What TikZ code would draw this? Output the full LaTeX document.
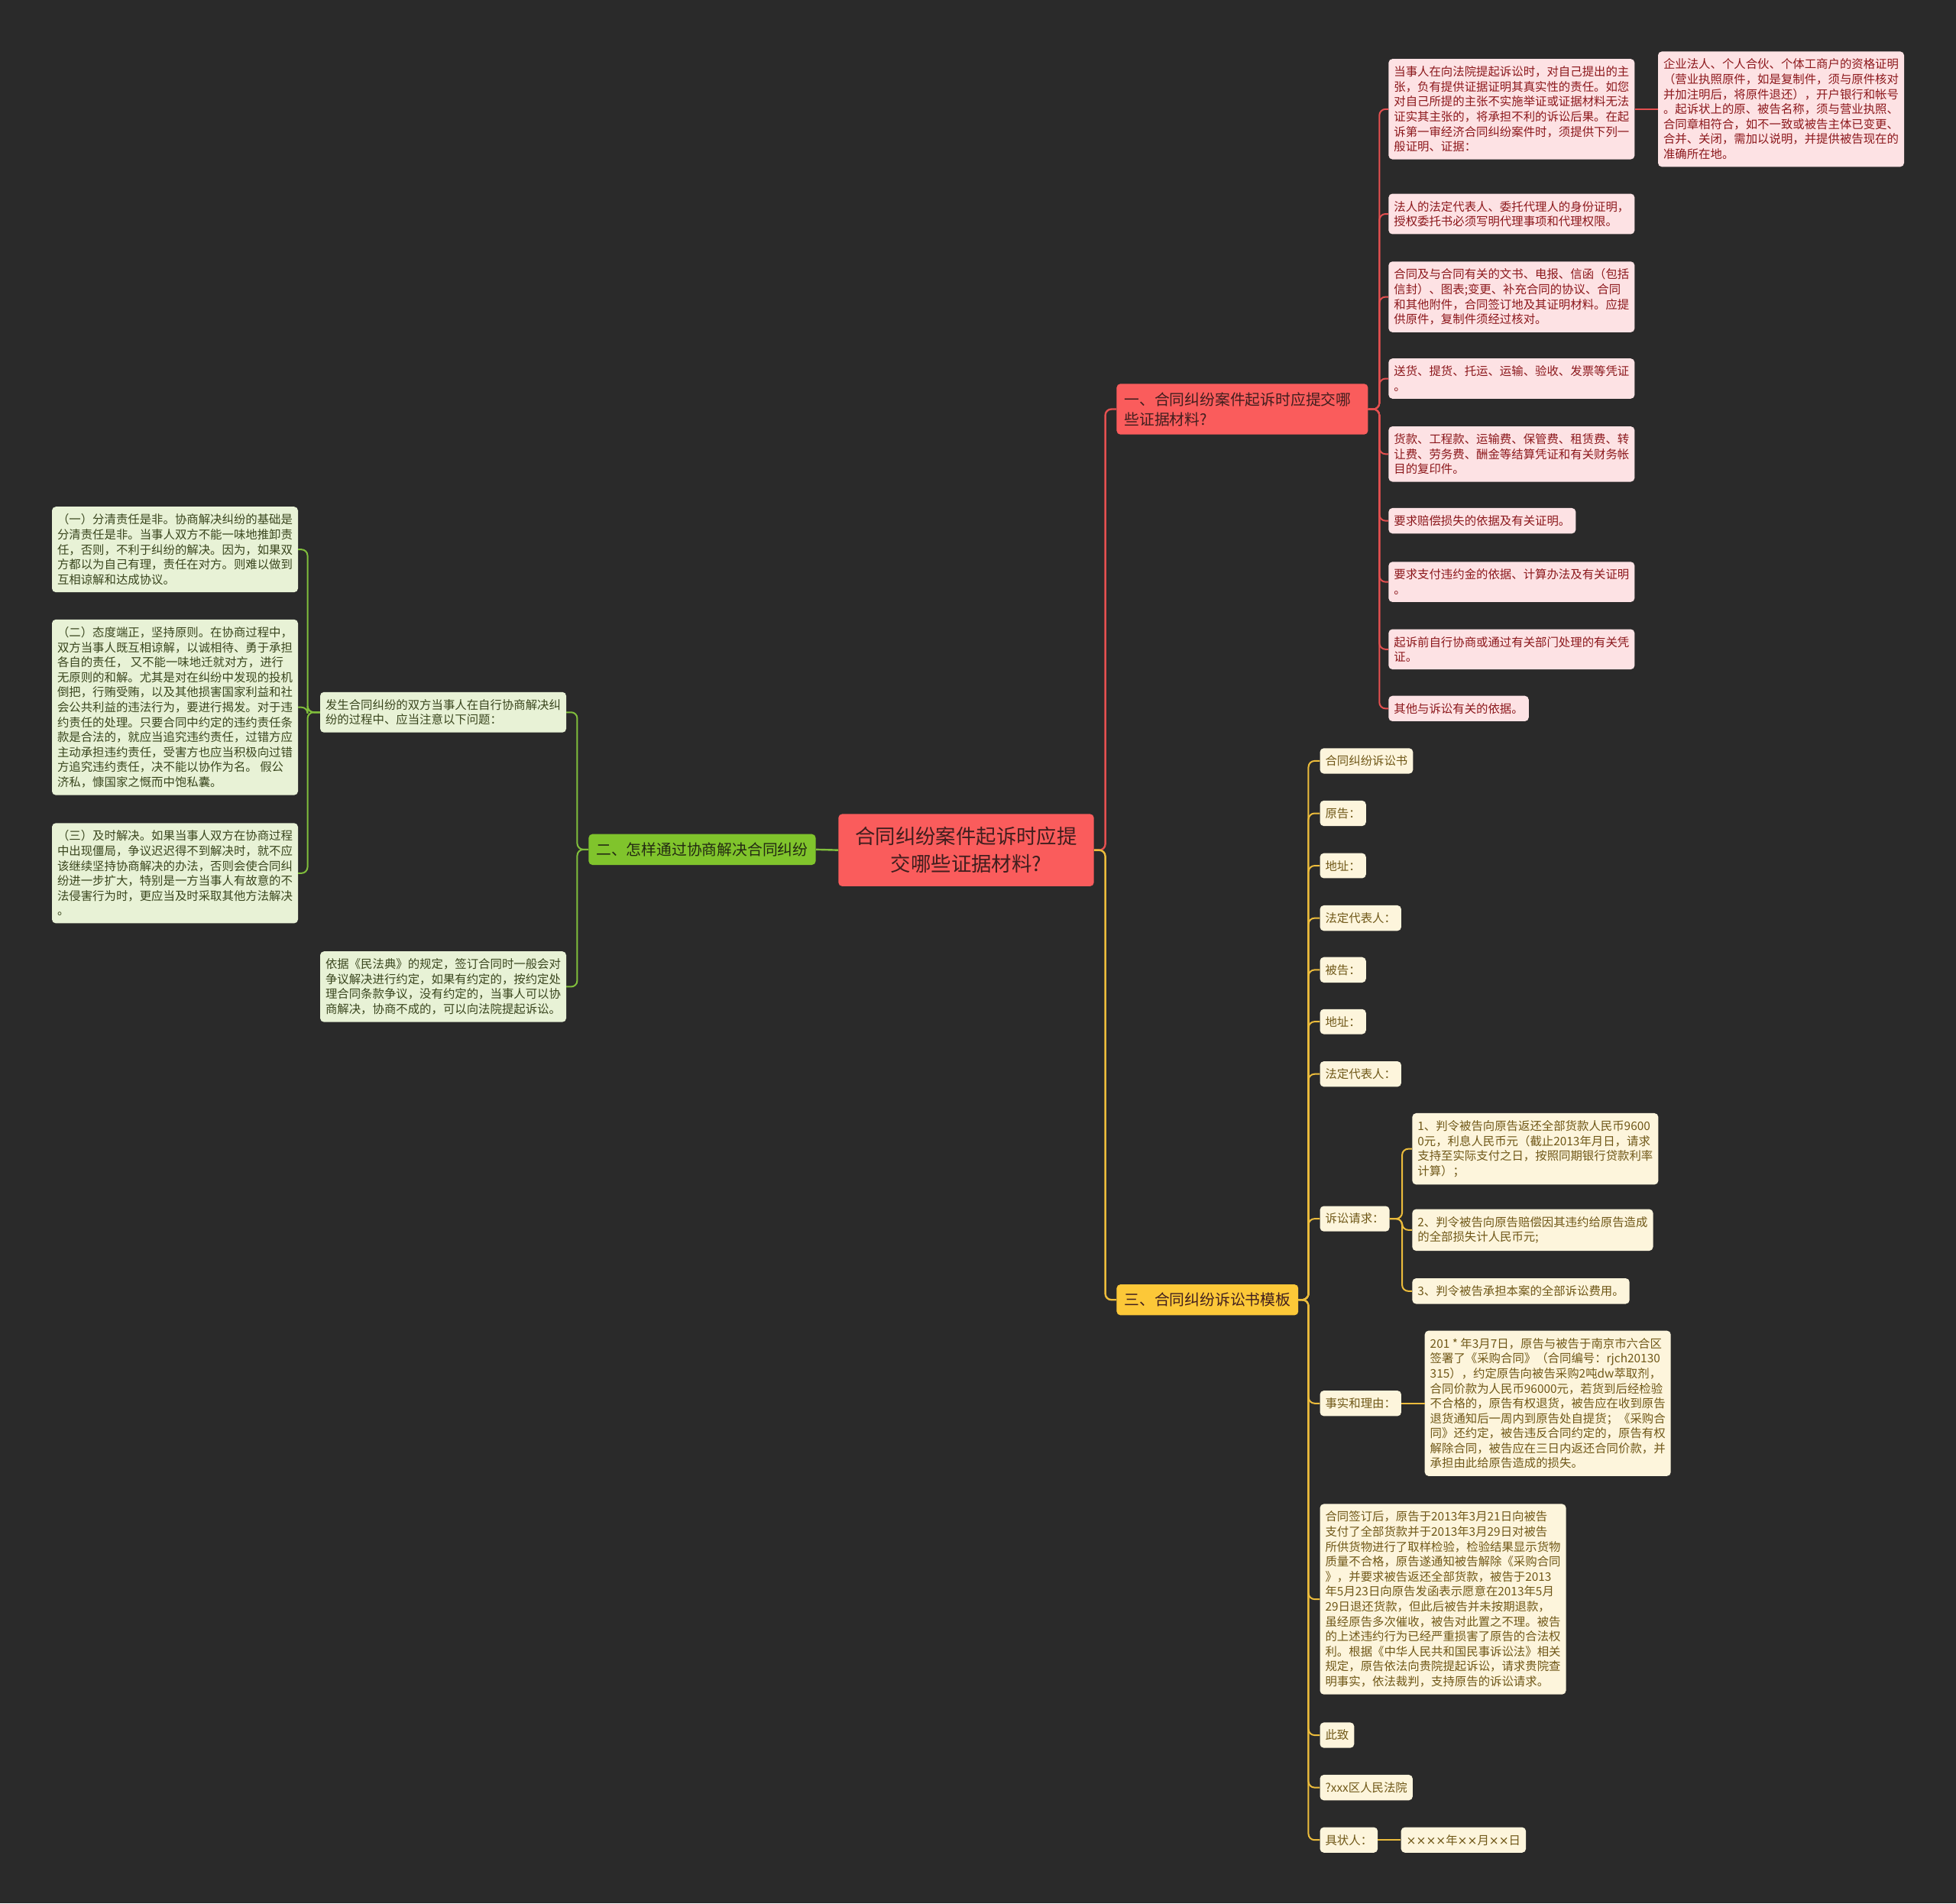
\documentclass[tikz,border=0pt]{standalone}
\usepackage{fontspec}
\setmainfont{Noto Sans CJK SC}
\newfontfamily\letrapor{DejaVu Sans}
\usepackage{tikz}
\definecolor{fondo}{RGB}{42,42,42}
\definecolor{rojito}{RGB}{250,92,92}
\definecolor{rojolinea}{RGB}{228,80,80}
\definecolor{rosita}{RGB}{253,226,228}
\definecolor{rojotexto}{RGB}{140,24,28}
\definecolor{verdecito}{RGB}{128,196,44}
\definecolor{verdelinea}{RGB}{128,190,60}
\definecolor{verdeclaro}{RGB}{232,242,214}
\definecolor{verdetexto}{RGB}{58,70,30}
\definecolor{amarillito}{RGB}{252,200,56}
\definecolor{amarillolinea}{RGB}{236,188,60}
\definecolor{cremita}{RGB}{253,245,220}
\definecolor{amarillotexto}{RGB}{112,88,24}
\definecolor{oscurito}{RGB}{64,30,30}
\newcommand{\letrachica}{\fontsize{15.4pt}{19.6pt}\selectfont}
\newcommand{\letramedia}{\fontsize{19.8pt}{26pt}\selectfont}
\newcommand{\letragrande}{\fontsize{26.4pt}{36pt}\selectfont}
\newcommand{\por}{{\letrapor ×}}
\tikzset{
  raiz/.style={fill=rojito, text=oscurito, rounded corners=5pt, align=center, font=\letragrande, inner xsep=22pt, inner ysep=17pt},
  rama/.style={rounded corners=5pt, align=left, font=\letramedia, inner xsep=10pt, inner ysep=11pt, anchor=west},
  hoja/.style={rounded corners=5pt, align=left, font=\letrachica, inner xsep=7pt, inner ysep=9.5pt, anchor=west},
  hojaroja/.style={hoja, fill=rosita, text=rojotexto},
  hojaverde/.style={hoja, fill=verdeclaro, text=verdetexto, anchor=east},
  hojaamarilla/.style={hoja, fill=cremita, text=amarillotexto},
  enlace/.style={line width=2.4pt, rounded corners=8pt},
  enlacefino/.style={line width=2pt, rounded corners=8pt}
}

\begin{document}
\begin{tikzpicture}[x=1.6327pt,y=-1.6327pt]
  % Fondo
  \fill[fondo] (0,0) rectangle (1568,1526);
  \useasboundingbox (0,0) rectangle (1568,1526);

  % Nodo central
  \node[raiz] (raiz) at (774.5,681.5) {合同纠纷案件起诉时应提\\交哪些证据材料?};

  % Ramas
  \node[rama, fill=rojito, text=oscurito, text width=309pt] (uno) at (895,328) {一、合同纠纷案件起诉时应提交哪\\些证据材料?};
  \node[rama, fill=verdecito, text=verdetexto!60!black, anchor=east] (dos) at (654,681) {二、怎样通过协商解决合同纠纷};
  \node[rama, fill=amarillito, text=oscurito] (tres) at (895,1042) {三、合同纠纷诉讼书模板};

  % Rama uno: pruebas
  \node[hojaroja] (r1) at (1113,87.5) {当事人在向法院提起诉讼时，对自己提出的主\\张，负有提供证据证明其真实性的责任。如您\\对自己所提的主张不实施举证或证据材料无法\\证实其主张的，将承担不利的诉讼后果。在起\\诉第一审经济合同纠纷案件时，须提供下列一\\般证明、证据：};
  \node[hojaroja] (r1a) at (1329,87.5) {企业法人、个人合伙、个体工商户的资格证明\\（营业执照原件，如是复制件，须与原件核对\\并加注明后，将原件退还），开户银行和帐号\\。起诉状上的原、被告名称，须与营业执照、\\合同章相符合，如不一致或被告主体已变更、\\合并、关闭，需加以说明，并提供被告现在的\\准确所在地。};
  \node[hojaroja] (r2) at (1113,171.5) {法人的法定代表人、委托代理人的身份证明，\\授权委托书必须写明代理事项和代理权限。};
  \node[hojaroja] (r3) at (1113,238) {合同及与合同有关的文书、电报、信函（包括\\信封）、图表;变更、补充合同的协议、合同\\和其他附件，合同签订地及其证明材料。应提\\供原件，复制件须经过核对。};
  \node[hojaroja] (r4) at (1113,303.5) {送货、提货、托运、运输、验收、发票等凭证\\。};
  \node[hojaroja] (r5) at (1113,364) {货款、工程款、运输费、保管费、租赁费、转\\让费、劳务费、酬金等结算凭证和有关财务帐\\目的复印件。};
  \node[hojaroja] (r6) at (1113,417.5) {要求赔偿损失的依据及有关证明。};
  \node[hojaroja] (r7) at (1113,466.5) {要求支付违约金的依据、计算办法及有关证明\\。};
  \node[hojaroja] (r8) at (1113,520.5) {起诉前自行协商或通过有关部门处理的有关凭\\证。};
  \node[hojaroja] (r9) at (1113,568) {其他与诉讼有关的依据。};

  % Rama dos:协商
  \node[hojaverde] (v1) at (454,571) {发生合同纠纷的双方当事人在自行协商解决纠\\纷的过程中、应当注意以下问题：};
  \node[hojaverde] (v2) at (454,791) {依据《民法典》的规定，签订合同时一般会对\\争议解决进行约定，如果有约定的，按约定处\\理合同条款争议，没有约定的，当事人可以协\\商解决，协商不成的，可以向法院提起诉讼。};
  \node[hojaverde] (v1a) at (239,440.5) {（一）分清责任是非。协商解决纠纷的基础是\\分清责任是非。当事人双方不能一味地推卸责\\任，否则，不利于纠纷的解决。因为，如果双\\方都以为自己有理，责任在对方。则难以做到\\互相谅解和达成协议。};
  \node[hojaverde] (v1b) at (239,567) {（二）态度端正，坚持原则。在协商过程中，\\双方当事人既互相谅解，以诚相待、勇于承担\\各自的责任， 又不能一味地迁就对方，进行\\无原则的和解。尤其是对在纠纷中发现的投机\\倒把，行贿受贿，以及其他损害国家利益和社\\会公共利益的违法行为，要进行揭发。对于违\\约责任的处理。只要合同中约定的违约责任条\\款是合法的，就应当追究违约责任，过错方应\\主动承担违约责任，受害方也应当积极向过错\\方追究违约责任，决不能以协作为名。 假公\\济私，慷国家之慨而中饱私囊。};
  \node[hojaverde] (v1c) at (239,700) {（三）及时解决。如果当事人双方在协商过程\\中出现僵局，争议迟迟得不到解决时，就不应\\该继续坚持协商解决的办法，否则会使合同纠\\纷进一步扩大，特别是一方当事人有故意的不\\法侵害行为时，更应当及时采取其他方法解决\\。};

  % Rama tres: 诉讼书
  \node[hojaamarilla] (a1) at (1058,610) {合同纠纷诉讼书};
  \node[hojaamarilla] (a2) at (1058,652) {原告：};
  \node[hojaamarilla] (a3) at (1058,694) {地址：};
  \node[hojaamarilla] (a4) at (1058,736) {法定代表人：};
  \node[hojaamarilla] (a5) at (1058,777.5) {被告：};
  \node[hojaamarilla] (a6) at (1058,819) {地址：};
  \node[hojaamarilla] (a7) at (1058,861) {法定代表人：};
  \node[hojaamarilla] (a8) at (1058,977) {诉讼请求：};
  \node[hojaamarilla] (a9) at (1058,1125) {事实和理由：};
  \node[hojaamarilla] (a10) at (1058,1282) {合同签订后，原告于2013年3月21日向被告\\支付了全部货款并于2013年3月29日对被告\\所供货物进行了取样检验，检验结果显示货物\\质量不合格，原告遂通知被告解除《采购合同\\》，并要求被告返还全部货款，被告于2013\\年5月23日向原告发函表示愿意在2013年5月\\29日退还货款，但此后被告并未按期退款，\\虽经原告多次催收，被告对此置之不理。被告\\的上述违约行为已经严重损害了原告的合法权\\利。根据《中华人民共和国民事诉讼法》相关\\规定，原告依法向贵院提起诉讼，请求贵院查\\明事实，依法裁判，支持原告的诉讼请求。};
  \node[hojaamarilla] (a11) at (1058,1391) {此致};
  \node[hojaamarilla] (a12) at (1058,1433) {?xxx区人民法院};
  \node[hojaamarilla] (a13) at (1058,1475) {具状人：};
  \node[hojaamarilla] (a8a) at (1132,921) {1、判令被告向原告返还全部货款人民币9600\\0元，利息人民币元（截止2013年月日，请求\\支持至实际支付之日，按照同期银行贷款利率\\计算）；};
  \node[hojaamarilla] (a8b) at (1132,986) {2、判令被告向原告赔偿因其违约给原告造成\\的全部损失计人民币元;};
  \node[hojaamarilla] (a8c) at (1132,1035) {3、判令被告承担本案的全部诉讼费用。};
  \node[hojaamarilla] (a9a) at (1142,1125) {201 * 年3月7日，原告与被告于南京市六合区\\签署了《采购合同》（合同编号：rjch20130\\315），约定原告向被告采购2吨dw萃取剂，\\合同价款为人民币96000元，若货到后经检验\\不合格的，原告有权退货，被告应在收到原告\\退货通知后一周内到原告处自提货；《采购合\\同》还约定，被告违反合同约定的，原告有权\\解除合同，被告应在三日内返还合同价款，并\\承担由此给原告造成的损失。};
  \node[hojaamarilla] (a13a) at (1123,1475) {\por\por\por\por 年\por\por 月\por\por 日};

  % Enlaces del centro
  \draw[enlace, rojolinea] (raiz.east) -- ++(9,0) |- (uno.west);
  \draw[enlace, amarillolinea] (raiz.east) -- ++(9,0) |- (tres.west);
  \draw[enlace, verdelinea] (raiz.west) -- (dos.east);

  % Enlaces de las ramas
  \foreach \h in {r1,r2,r3,r4,r5,r6,r7,r8,r9}
    \draw[enlacefino, rojolinea] (uno.east) -- ++(9,0) |- (\h.west);
  \draw[enlacefino, rojolinea] (r1.east) -- (r1a.west);
  \foreach \h in {v1,v2}
    \draw[enlacefino, verdelinea] (dos.west) -- ++(-9,0) |- (\h.east);
  \foreach \h in {v1a,v1b,v1c}
    \draw[enlacefino, verdelinea] (v1.west) -- ++(-10,0) |- (\h.east);
  \foreach \h in {a1,a2,a3,a4,a5,a6,a7,a8,a9,a10,a11,a12,a13}
    \draw[enlacefino, amarillolinea] (tres.east) -- ++(8,0) |- (\h.west);
  \foreach \h in {a8a,a8b,a8c}
    \draw[enlacefino, amarillolinea] (a8.east) -- ++(10,0) |- (\h.west);
  \draw[enlacefino, amarillolinea] (a9.east) -- (a9a.west);
  \draw[enlacefino, amarillolinea] (a13.east) -- (a13a.west);
\end{tikzpicture}
\end{document}
